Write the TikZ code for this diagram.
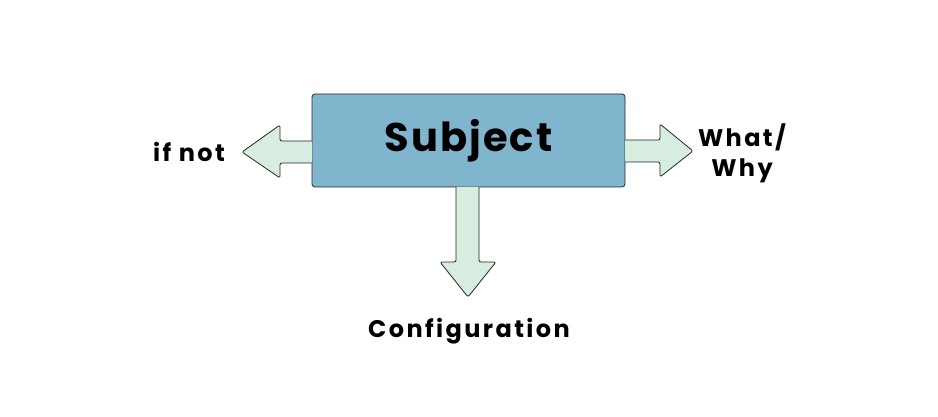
\documentclass[tikz,border=0pt]{standalone}
\usepackage{fontspec}
\setmainfont{Poppins}
\begin{document}
\begin{tikzpicture}[x=1pt,y=-1pt,
  blk/.style={draw=black!85,line width=0.8pt,rounded corners=2pt,line join=round},
  lbl/.style={font=\bfseries\fontsize{24}{30}\selectfont\addfontfeatures{LetterSpace=10},align=center}]
\useasboundingbox (0,0) rectangle (938,417);
\definecolor{boxblue}{HTML}{80B6CD}
\definecolor{arr}{HTML}{D6EDE0}
\node[draw=black!85,line width=0.8pt,fill=boxblue,rounded corners=3pt,minimum width=313pt,minimum height=93pt,font=\bfseries\fontsize{40}{46}\selectfont\addfontfeatures{LetterSpace=5}] (s) at (468.5,140.5) {Subject};
\path[blk,fill=arr] (312,141) -- (280,141) -- (280,125) -- (242,152) -- (280,178) -- (280,163) -- (312,163);
\path[blk,fill=arr] (625,140) -- (660,140) -- (660,124) -- (693,151) -- (660,177) -- (660,162) -- (625,162);
\path[blk,fill=arr] (456,187) -- (456,262) -- (440,262) -- (468,297) -- (496,262) -- (479,262) -- (479,187);
\node[lbl] (l) at (189,152) {if not};
\node[lbl] (r) at (742,153) {What/\\Why};
\node[lbl] (d) at (469,331) {Configuration};
\end{tikzpicture}
\end{document}
